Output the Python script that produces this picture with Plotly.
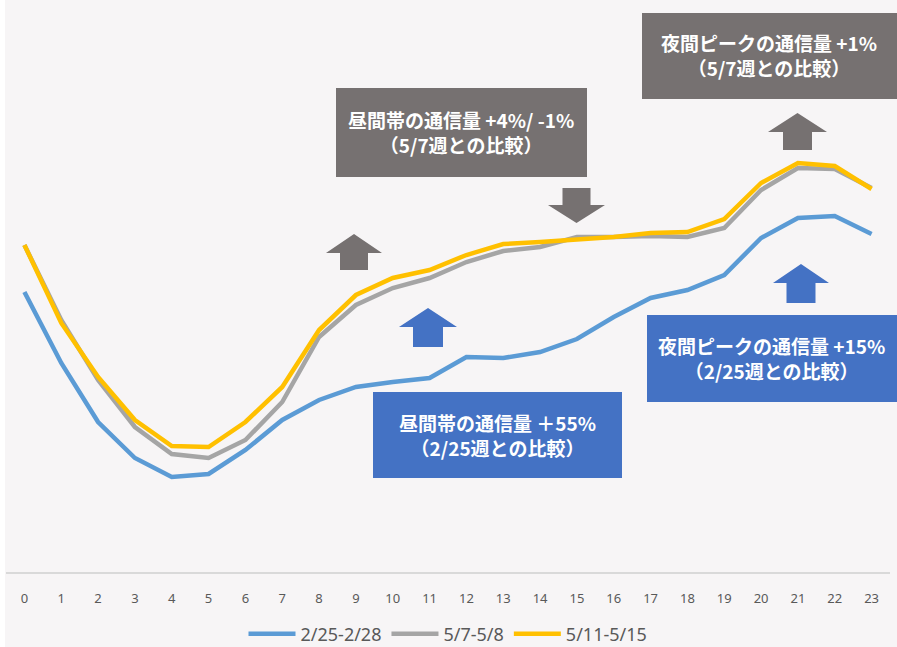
import plotly.graph_objects as go

# ---- data (arbitrary traffic index) ----
hours = list(range(24))
hour_labels = [str(h) for h in hours]
series_names = ["2/25-2/28", "5/7-5/8", "5/11-5/15"]
feb25 = [280, 209, 150, 114, 95, 98, 122, 152, 172, 185, 190, 194,
         215, 214, 220, 233, 255, 274, 282, 297, 334, 354, 356, 338]
may07 = [327, 252, 192, 145, 118, 114, 132, 170, 235, 267, 284, 294,
         310, 321, 325, 335, 335, 336, 335, 344, 382, 404, 403, 384]
may11 = [327, 249, 195, 152, 126, 125, 150, 185, 242, 277, 294, 302,
         317, 328, 330, 332, 335, 339, 340, 353, 389, 409, 406, 383]
series_values = [feb25, may07, may11]
series_colors = ["#5B9BD5", "#A5A5A5", "#FFC000"]

# ---- layout geometry helpers (pixels -> paper) ----
W, H = 897, 647
ML, MR, MT, MB = 6, 7, 12, 75
PW = W - ML - MR
PH = H - MT - MB


def pxx(x):
    return (x - ML) / PW


def pxy(y):
    return (H - MB - y) / PH


GRAY = "#767171"
BLUE = "#4472C4"

fig = go.Figure()
for name, vals, col in zip(series_names, series_values, series_colors):
    fig.add_trace(go.Scatter(x=hour_labels, y=vals, mode="lines", name=name,
                             line=dict(color=col, width=4.5)))

shapes = []
# white strip at left edge
shapes.append(dict(type="rect", xref="paper", yref="paper", layer="below",
                   x0=pxx(-2), x1=pxx(5), y0=pxy(H + 2), y1=pxy(-2),
                   fillcolor="white", line=dict(width=0)))

boxes = [  # x0, y0, x1, y1, color
    (336, 88, 587, 177, GRAY),
    (642, 13, 899, 99, GRAY),
    (373, 392, 622, 478, BLUE),
    (647, 315, 899, 402, BLUE),
]
for x0, y0, x1, y1, c in boxes:
    shapes.append(dict(type="rect", xref="paper", yref="paper",
                       x0=pxx(x0), x1=pxx(x1), y0=pxy(y1), y1=pxy(y0),
                       fillcolor=c, line=dict(width=0)))


def arrow(cx, tip, tail, hw, sw, hh, color):
    d = 1 if tail > tip else -1  # up arrow if tail below tip
    base = tip + d * hh
    pts = [(cx, tip), (cx + hw / 2, base), (cx + sw / 2, base), (cx + sw / 2, tail),
           (cx - sw / 2, tail), (cx - sw / 2, base), (cx - hw / 2, base)]
    path = "M " + " L ".join(f"{pxx(x):.5f},{pxy(y):.5f}" for x, y in pts) + " Z"
    return dict(type="path", xref="paper", yref="paper", path=path,
                fillcolor=color, line=dict(width=0))


arrows = [
    (354, 234, 270, 56, 28, 19, GRAY),
    (576.5, 223, 188, 57, 28, 18, GRAY),
    (797.5, 113, 150, 59, 29, 19, GRAY),
    (428, 308, 347, 58, 30, 19, BLUE),
    (801, 264, 303, 56, 29, 19, BLUE),
]
for a in arrows:
    shapes.append(arrow(*a))

texts = [  # text, center x, center y (px)
    ("昼間帯の通信量 +4%/ -1%<br>（5/7週との比較）", 461, 132),
    ("夜間ピークの通信量 +1%<br>（5/7週との比較）", 769, 55),
    ("昼間帯の通信量 ＋55%<br>（2/25週との比較）", 497, 435),
    ("夜間ピークの通信量 +15%<br>（2/25週との比較）", 771, 358),
]
annotations = []
for t, x, y in texts:
    annotations.append(dict(text=t, x=pxx(x), y=pxy(y), xref="paper", yref="paper",
                            xanchor="center", yanchor="middle", showarrow=False,
                            align="center",
                            font=dict(family="Noto Sans CJK JP", size=19,
                                      color="white", weight="bold")))

fig.update_layout(
    width=W, height=H,
    margin=dict(l=ML, r=MR, t=MT, b=MB, autoexpand=False),
    paper_bgcolor="#F7F5F6", plot_bgcolor="#F7F5F6",
    shapes=shapes, annotations=annotations,
    font=dict(family="Noto Sans, Noto Sans CJK JP", color="#595959"),
    showlegend=True,
    legend=dict(orientation="h", x=0.5, xanchor="center", y=pxy(634), yanchor="middle",
                font=dict(size=18, color="#595959"), itemwidth=47,
                bgcolor="rgba(0,0,0,0)"),
    xaxis=dict(type="category", range=[-0.5, 23.5], showgrid=False, zeroline=False,
               showline=True, linecolor="#D9D9D9", linewidth=1.5, ticks="",
               tickfont=dict(size=13, color="#595959"), ticklabelstandoff=14,
               fixedrange=True),
    yaxis=dict(range=[0, PH], visible=False, fixedrange=True),
)

fig.write_html("out.html")
